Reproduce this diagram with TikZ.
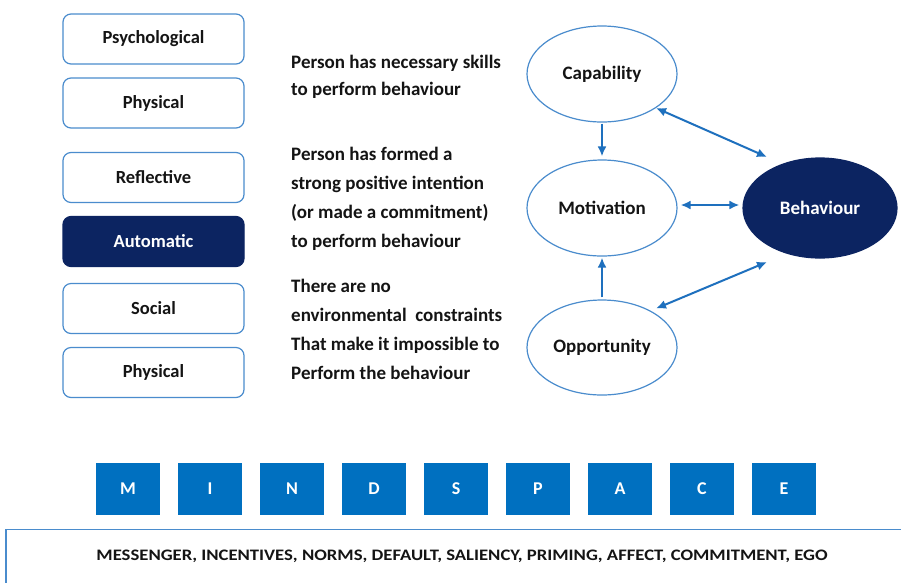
\documentclass[tikz,border=0pt]{standalone}
\usepackage{fontspec}
\setmainfont{Carlito}
\usetikzlibrary{shapes.geometric,arrows.meta,calc}
\definecolor{navy}{RGB}{12,36,97}
\definecolor{edgeblue}{RGB}{74,140,205}
\definecolor{arrowblue}{RGB}{30,112,190}
\definecolor{tileblue}{RGB}{0,112,192}
\definecolor{ink}{RGB}{20,20,20}
\begin{document}
\begin{tikzpicture}[x=1pt,y=-1pt,
  cbox/.style={draw=edgeblue,line width=1.2pt,rounded corners=8pt,
    minimum width=181pt,minimum height=50pt,inner sep=0pt,text=ink,
    font=\fontsize{18.5}{20}\selectfont\bfseries},
  cdark/.style={cbox,fill=navy,draw=navy,text=white},
  oval/.style={ellipse,draw=edgeblue,line width=1.2pt,minimum width=150pt,
    minimum height=96pt,inner sep=0pt,text=ink,font=\fontsize{19}{20}\selectfont\bfseries},
  ovaldark/.style={oval,fill=navy,draw=navy,text=white,minimum width=154pt,minimum height=100pt},
  note/.style={anchor=base west,align=left,inner sep=0pt,text=ink,
    font=\fontsize{19}{29}\selectfont\bfseries},
  tile/.style={fill=tileblue,minimum width=64pt,minimum height=52pt,inner sep=0pt,
    text=white,font=\fontsize{18}{18}\selectfont\bfseries},
  link/.style={draw=arrowblue,line width=2pt,-{Latex[length=10pt,width=9pt]}},
  biway/.style={draw=arrowblue,line width=2pt,{Latex[length=10pt,width=9pt]}-{Latex[length=10pt,width=9pt]}}
]
\useasboundingbox (0,0) rectangle (901,582);
\fill[white] (0,0) rectangle (901,582);

% COM-B sources column
\node[cbox]  (psy)  at (153.5,39)   {Psychological};
\node[cbox]  (phy1) at (153.5,103)  {Physical};
\node[cbox]  (refl) at (153.5,177.5){Reflective};
\node[cdark] (auto) at (153.5,241.5){Automatic};
\node[cbox]  (soc)  at (153.5,308.5){Social};
\node[cbox]  (phy2) at (153.5,372.5){Physical};

% explanations (anchored at the baseline of the last line)
\node[note,font=\fontsize{19}{27}\selectfont\bfseries] (t1) at (291,95)
  {Person has necessary skills\\to perform behaviour};
\node[note] (t2) at (291,247)
  {Person has formed a\\strong positive intention\\(or made a commitment)\\to perform behaviour};
\node[note] (t3) at (291,379)
  {There are no\\environmental\ \ constraints\\That make it impossible to\\Perform the behaviour};

% COM-B model
\node[oval] (cap) at (602,74)  {Capability};
\node[oval] (mot) at (602,208) {Motivation};
\node[oval,minimum height=95pt] (opp) at (602,347.5) {Opportunity};
\node[ovaldark] (beh) at (820,208) {Behaviour};

\draw[link,shorten <=1pt,shorten >=3pt] (cap.south) -- (mot.north);
\draw[link,shorten <=2pt,shorten >=1pt] (opp.north) -- (mot.south);
\draw[biway,shorten <=3pt,shorten >=3pt] ($(mot.east)+(0,-3)$) -- ($(beh.west)+(0,-3)$);
\draw[biway] ($(cap.center)+(54,34)$) -- ($(beh.center)+(-53,-51)$);
\draw[biway] ($(opp.center)+(54,-39)$) -- ($(beh.center)+(-53,54)$);

% MINDSPACE tiles
\foreach \l [count=\i from 0] in {M,I,N,D,S,P,A,C,E}
  \node[tile] (tile\i) at (128+82*\i,489) {\l};

% expansion box
\draw[edgeblue,line width=1.2pt] (6,600) -- (6,529.5) -- (920,529.5);
\node[text=ink,inner sep=0pt] (expand) at (462,556)
  {\resizebox{731pt}{10.5pt}{\fontsize{16}{16}\selectfont\bfseries MESSENGER, INCENTIVES, NORMS, DEFAULT, SALIENCY, PRIMING, AFFECT, COMMITMENT, EGO}};
\end{tikzpicture}
\end{document}
